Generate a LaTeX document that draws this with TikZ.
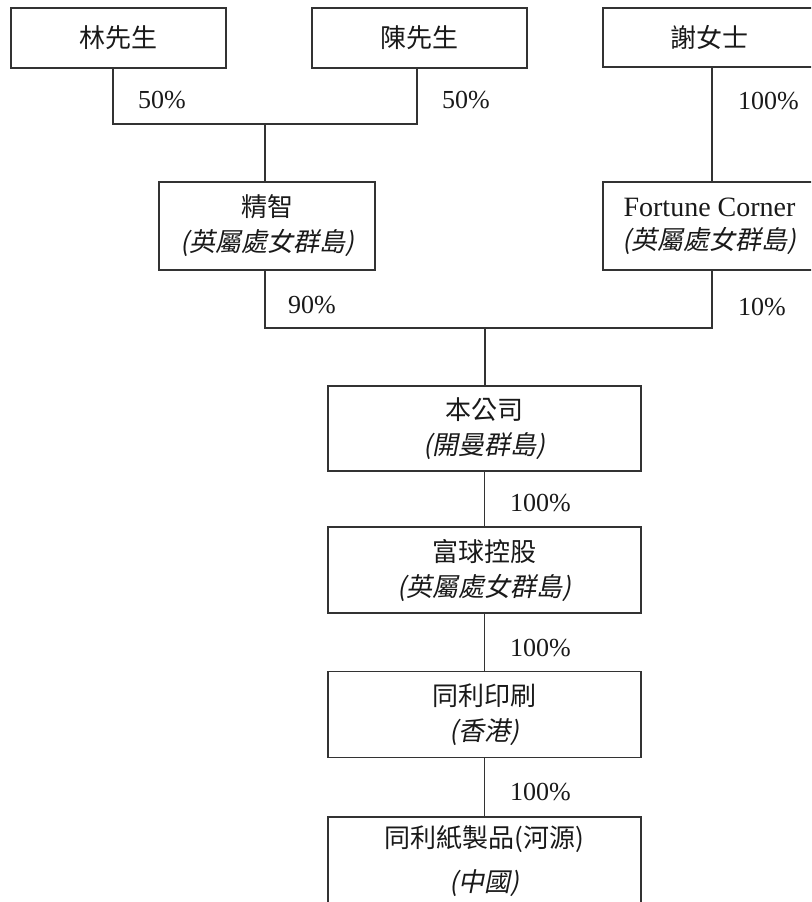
\documentclass[tikz,border=0pt]{standalone}
\usepackage{fontspec}
\setmainfont{Liberation Serif}
\newfontfamily\cjkfont{Noto Sans CJK TC}
\newfontfamily\cjkit[FakeSlant=0.2]{Noto Sans CJK TC}
\begin{document}
\begin{tikzpicture}[x=1pt,y=-1pt,
  ent/.style={draw=black!80, line width=1.1pt, rectangle, align=center, inner sep=0pt,
    text=black!90, font=\fontsize{26}{35}\selectfont},
  pct/.style={anchor=west, inner sep=0pt, text=black!90, font=\fontsize{26}{30}\selectfont},
  link/.style={draw=black!80, line width=1.1pt}]
\useasboundingbox (0,0) rectangle (811,902);
\clip (0,0) rectangle (811,902);
% top row
\node[ent, minimum width=215pt, minimum height=60pt] (lin) at (118.5,38) {\cjkfont 林先生};
\node[ent, minimum width=215pt, minimum height=60pt] (chen) at (419.5,38) {\cjkfont 陳先生};
\node[ent, minimum width=213pt, minimum height=59pt] (xie) at (709.5,37.5) {\cjkfont 謝女士};
% second row
\node[ent, minimum width=216pt, minimum height=88pt] (jz) at (267,226) {{\cjkfont 精智}\\{\cjkit (英屬處女群島)}};
\node[ent, minimum width=213pt, minimum height=88pt] (fc) at (709.5,226) {{\fontsize{28}{30}\selectfont Fortune Corner}\\[-2pt]{\cjkit (英屬處女群島)}};
% column
\node[ent, minimum width=313pt, minimum height=85pt] (ben) at (484.5,428.5) {{\cjkfont 本公司}\\{\cjkit (開曼群島)}};
\node[ent, minimum width=313pt, minimum height=86pt] (fq) at (484.5,570) {{\cjkfont 富球控股}\\{\cjkit (英屬處女群島)}};
\node[ent, minimum width=313pt, minimum height=86pt] (tl) at (484.5,714.5) {{\cjkfont 同利印刷}\\{\cjkit (香港)}};
\node[ent, minimum width=313pt, minimum height=88pt] (zp) at (484.5,861) {{\cjkfont 同利紙製品(河源)}\\[9pt]{\cjkit (中國)}};
% junctions
\coordinate (j1) at (265,124);
\coordinate (j2) at (485,328);
% connectors
\draw[link] ([xshift=-5.5pt]lin.south) |- (j1) -| ([xshift=-2.5pt]chen.south);
\draw[link] (j1) -- (j1 |- jz.north);
\draw[link] ([xshift=2.5pt]xie.south) -- ([xshift=2.5pt]fc.north);
\draw[link] ([xshift=-2pt]jz.south) |- (j2) -| ([xshift=2.5pt]fc.south);
\draw[link] (j2) -- (j2 |- ben.north);
\draw[link] (ben.south) -- (fq.north);
\draw[link] (fq.south) -- (tl.north);
\draw[link] (tl.south) -- (zp.north);
% labels
\node[pct] (p1) at (138,100) {50\%};
\node[pct] (p2) at (442,100) {50\%};
\node[pct] (p3) at (738,101) {100\%};
\node[pct] (p4) at (288,305) {90\%};
\node[pct] (p5) at (738,307) {10\%};
\node[pct] (p6) at (510,503) {100\%};
\node[pct] (p7) at (510,648) {100\%};
\node[pct] (p8) at (510,792) {100\%};
\end{tikzpicture}
\end{document}
